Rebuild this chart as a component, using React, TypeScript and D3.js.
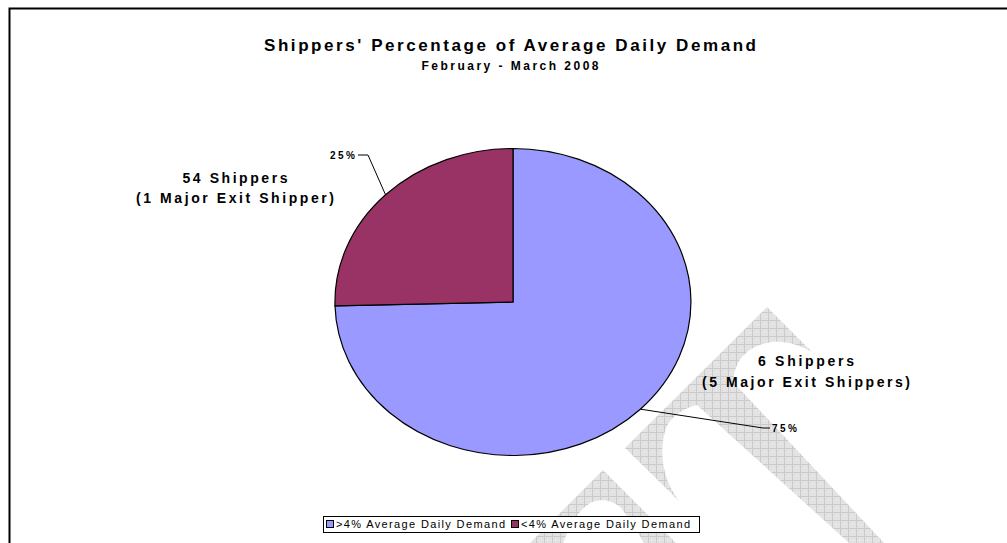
import React from "react";
import * as d3 from "d3";

// ---- data ----
const categories = [">4% Average Daily Demand", "<4% Average Daily Demand"];
const shares = [74.6, 25.4];
const sliceColors = ["#9999FF", "#993366"];
const countLabels = ["6 Shippers", "54 Shippers"];
const detailLabels = ["(5 Major Exit Shippers)", "(1 Major Exit Shipper)"];
const titleText = "Shippers' Percentage of Average Daily Demand";
const subtitleText = "February - March 2008";

// ---- layout ----
const W = 1007;
const H = 543;
const CX = 513;
const CY = 302;
const RX = 178;
const RY = 153.5;
const FONT = "'Liberation Sans', Arial, Helvetica, sans-serif";

// label layout per slice
const labelLayout = [
  { elbow: [763, 428], end: [770, 428], pctX: 772, pctY: 432, anchor: "start", cx: 806, y1: 366, y2: 387, w1: 96, w2: 208 },
  { elbow: [368, 155], end: [358, 155], pctX: 355, pctY: 159, anchor: "end", cx: 235, y1: 183, y2: 203, w1: 105, w2: 198 },
];

export default function App() {
  const pie = d3.pie<number>().sort(null).value((d) => d);
  const arcs = pie(shares);
  const arcGen = d3.arc<d3.PieArcDatum<number>>().innerRadius(0).outerRadius(1);

  const legendX = 323;
  const legendY = 516;
  const legendW = 376;
  const legendH = 16;
  const entryW = (legendW - 6) / 2;

  return (
    <svg width={W} height={H} style={{ position: "absolute", left: 0, top: 0, background: "#fff" }} fontFamily={FONT}>
      <defs>
        <pattern id="hatch" width="8" height="8" patternUnits="userSpaceOnUse">
          <rect width="8" height="8" fill="#e4e4e4" />
          <path d="M0 0.5H8M0.5 0V8" stroke="#cacaca" strokeWidth="1" />
          <path d="M2 2h1v1h-1zM6 6h1v1h-1zM6 2h1v1h-1zM2 6h1v1h-1z" fill="#d8d8d8" />
        </pattern>
      </defs>
      <rect x={0} y={0} width={W} height={H} fill="#fff" />
      {/* watermark */}
      <g fill="url(#hatch)">
        <path d="M625,448 L767,307 L812,352 C800,345 786,341 772,342 C756,344 744,352 738,363 C734,371 733,378 734,383 L902,562 L870,562 L697,405 C684,408 671,416 666,428 C661,443 661,460 666,476 C670,488 675,496 680,502 Z" />
        <path d="M520,553 L603,470 L690,557 L650,557 C643,540 633,522 620,507 C612,500 600,498 590,503 C576,512 566,532 560,553 Z" />
      </g>
      {/* border */}
      <rect x={9.5} y={8.5} width={1200} height={800} fill="none" stroke="#000" strokeWidth={2} />
      {/* title */}
      <text x={510} y={51} textAnchor="middle" fontWeight="bold" fontSize={17} textLength={492} lengthAdjust="spacing">{titleText}</text>
      <text x={510} y={70} textAnchor="middle" fontWeight="bold" fontSize={12} textLength={177} lengthAdjust="spacing">{subtitleText}</text>
      {/* pie */}
      <g transform={`translate(${CX},${CY}) scale(${RX},${RY})`}>
        {arcs.map((a, i) => (
          <path key={i} d={arcGen(a) || ""} fill={sliceColors[i]} stroke="#000" strokeWidth={1.2} vectorEffect="non-scaling-stroke" />
        ))}
      </g>
      {/* labels */}
      {arcs.map((a, i) => {
        const mid = (a.startAngle + a.endAngle) / 2;
        const ex = CX + RX * Math.sin(mid);
        const ey = CY - RY * Math.cos(mid);
        const L = labelLayout[i];
        const pct = Math.round(a.value) + "%";
        return (
          <g key={i}>
            <polyline points={`${ex},${ey} ${L.elbow[0]},${L.elbow[1]} ${L.end[0]},${L.end[1]}`} fill="none" stroke="#000" strokeWidth={1} />
            <text x={L.pctX} y={L.pctY} textAnchor={L.anchor as any} fontWeight="bold" fontSize={10} textLength={25} lengthAdjust="spacing">{pct}</text>
            <text x={L.cx} y={L.y1} textAnchor="middle" fontWeight="bold" fontSize={14} textLength={L.w1} lengthAdjust="spacing">{countLabels[i]}</text>
            <text x={L.cx} y={L.y2} textAnchor="middle" fontWeight="bold" fontSize={14} textLength={L.w2} lengthAdjust="spacing">{detailLabels[i]}</text>
          </g>
        );
      })}
      {/* legend */}
      <rect x={legendX + 0.5} y={legendY + 0.5} width={legendW} height={legendH} fill="#fff" stroke="#000" strokeWidth={1} />
      {categories.map((c, i) => {
        const x0 = legendX + 3 + i * (entryW + 0);
        return (
          <g key={i}>
            <rect x={x0 + 0.5} y={legendY + 4.5} width={7} height={7} fill={sliceColors[i]} stroke="#000" strokeWidth={1} />
            <text x={x0 + 10} y={legendY + 12} fontSize={11} textLength={entryW - 16} lengthAdjust="spacing">{c}</text>
          </g>
        );
      })}
    </svg>
  );
}
